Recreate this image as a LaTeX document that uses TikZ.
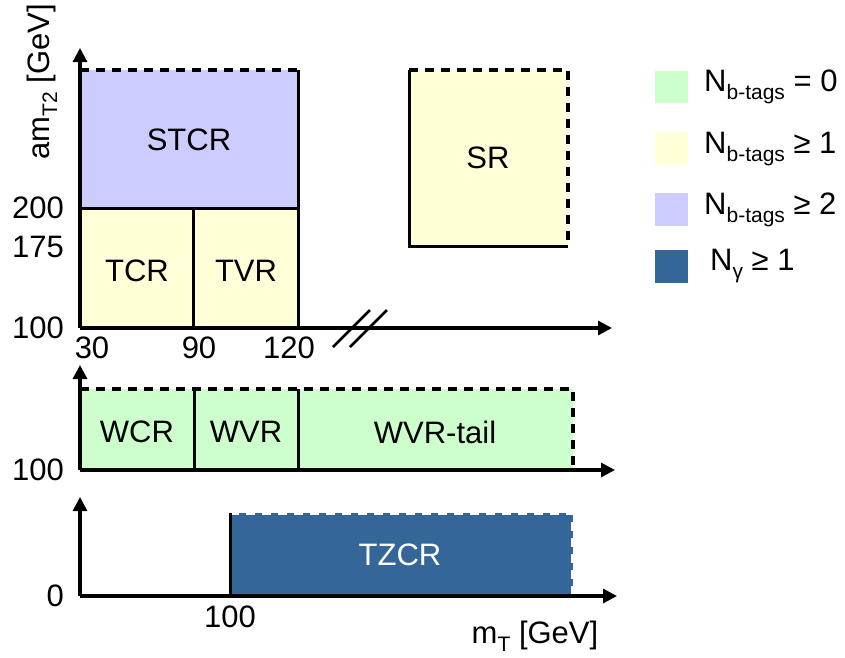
\documentclass[tikz,border=0pt]{standalone}
\usepackage{fontspec}
\setmainfont{Liberation Sans}
\usetikzlibrary{arrows.meta}
\definecolor{cgreen}{HTML}{CCFFCC}
\definecolor{cyellow}{HTML}{FFFFD8}
\definecolor{clav}{HTML}{CCCCFF}
\definecolor{cblue}{HTML}{346699}
\newcommand\lowsub[1]{\raisebox{-0.25em}{\fontsize{21}{21}\selectfont #1}}
\begin{document}
\begin{tikzpicture}[x=1pt,y=-1pt,
  axisline/.style={line width=3.2pt,-{Triangle[length=14pt,width=14pt]}},
  bord/.style={line width=3pt},
  dsh/.style={line width=4.4pt,dash pattern=on 9pt off 7pt},
  lbl/.style={font=\fontsize{31}{31}\selectfont,inner sep=0pt},
  tick/.style={font=\fontsize{31}{31}\selectfont,inner sep=0pt}]
\useasboundingbox (0,0) rectangle (845,657);
% ---- top panel
\fill[clav] (80,70) rectangle (298,208);
\fill[cyellow] (80,208) rectangle (298,328);
\draw[dsh] (80,70) -- (298,70);
\draw[bord] (298,70) -- (298,328);
\draw[bord] (80,208) -- (298,208);
\draw[bord] (193,208) -- (193,328);
\fill[cyellow] (409,70) rectangle (568,246);
\draw[bord] (409,70) -- (409,246) -- (568,246);
\draw[dsh] (409,70) -- (568,70) -- (568,246);
\coordinate (o1) at (80,328);
\coordinate (x1) at (612,328);
\coordinate (y1) at (80,48);
\draw[axisline] (o1) -- (x1);
\draw[axisline] (o1) -- (y1);
\coordinate (b1a) at (333,347); \coordinate (b1b) at (370,310);
\coordinate (b2a) at (350,347); \coordinate (b2b) at (387,310);
\draw[line width=2.8pt] (b1a) -- (b1b);
\draw[line width=2.8pt] (b2a) -- (b2b);
\node[lbl] (stcr) at (189,140) {STCR};
\node[lbl] (tcr) at (137,271) {TCR};
\node[lbl] (tvr) at (246,271) {TVR};
\node[lbl] (sr) at (488,158) {SR};
\node[tick,anchor=east] (t200) at (64,208) {200};
\node[tick,anchor=east] (t175) at (64,247) {175};
\node[tick,anchor=east] (t100a) at (64,328) {100};
\node[tick] (t30) at (92,348) {30};
\node[tick] (t90) at (199,348) {90};
\node[tick] (t120) at (289,348) {120};
\node[lbl,rotate=90] (ylab) at (42,82) {am\lowsub{T2} [GeV]};
% ---- middle panel
\fill[cgreen] (80,389) rectangle (573,470);
\draw[dsh] (80,389) -- (573,389) -- (573,470);
\draw[bord] (194,389) -- (194,470);
\draw[bord] (298,389) -- (298,470);
\coordinate (o2) at (80,470);
\coordinate (x2) at (615,470);
\coordinate (y2) at (80,365);
\draw[axisline] (o2) -- (x2);
\draw[axisline] (o2) -- (y2);
\node[lbl] (wcr) at (137,432) {WCR};
\node[lbl] (wvr) at (246,432) {WVR};
\node[lbl] (wvrt) at (435,432) {WVR-tail};
\node[tick,anchor=east] (t100b) at (64,470) {100};
% ---- bottom panel
\fill[cblue] (230,513) rectangle (573,596);
\draw[dsh,white] (230,513) -- (573,513) -- (573,596);
\draw[bord] (230,513) -- (230,596);
\coordinate (o3) at (80,596);
\coordinate (x3) at (617,596);
\coordinate (y3) at (80,497);
\draw[axisline] (o3) -- (x3);
\draw[axisline] (o3) -- (y3);
\node[lbl,text=white] (tzcr) at (400,555) {TZCR};
\node[tick,anchor=east] (t0) at (64,596) {0};
\node[tick] (t100c) at (230,617) {100};
\node[lbl] (xlab) at (535,636) {m\lowsub{T} [GeV]};
% ---- legend
\fill[cgreen] (655,71) rectangle (688,103);
\fill[cyellow] (655,132) rectangle (688,165);
\fill[clav] (655,193) rectangle (688,226);
\fill[cblue] (655,250) rectangle (688,283);
\node[lbl,anchor=west] (lg1) at (704,87) {N\lowsub{b-tags} = 0};
\node[lbl,anchor=west] (lg2) at (704,149) {N\lowsub{b-tags} ≥ 1};
\node[lbl,anchor=west] (lg3) at (704,210) {N\lowsub{b-tags} ≥ 2};
\node[lbl,anchor=west] (lg4) at (710,266) {N\lowsub{γ} ≥ 1};
\end{tikzpicture}
\end{document}
